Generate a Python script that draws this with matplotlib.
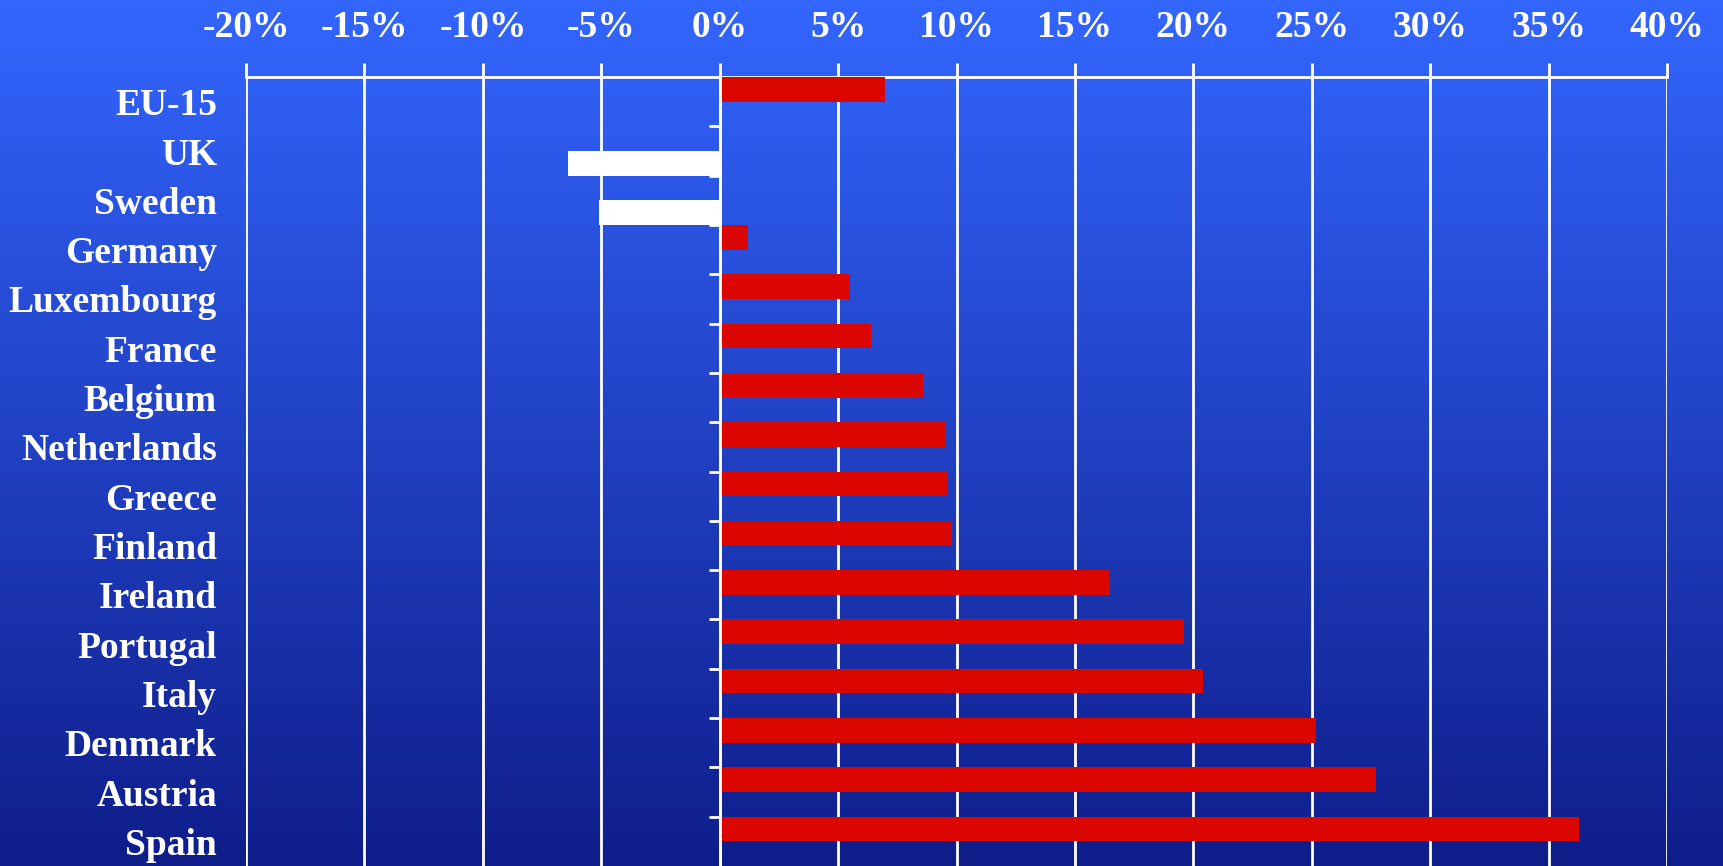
import numpy as np
import matplotlib
matplotlib.use("Agg")
import matplotlib.pyplot as plt
from matplotlib.colors import LinearSegmentedColormap

# data (% change)
countries = ["EU-15", "UK", "Sweden", "Germany", "Luxembourg", "France", "Belgium",
             "Netherlands", "Greece", "Finland", "Ireland", "Portugal", "Italy",
             "Denmark", "Austria", "Spain"]
values = [7.0, -6.4, -5.1, 1.2, 5.5, 6.4, 8.6, 9.5, 9.6, 9.8, 16.5, 19.6, 20.4, 25.2, 27.7, 36.3]
xticks = [-20, -15, -10, -5, 0, 5, 10, 15, 20, 25, 30, 35, 40]

plt.rcParams['font.family'] = ['Liberation Serif', 'DejaVu Serif']
plt.rcParams['font.weight'] = 'bold'

fig = plt.figure(figsize=(17.23, 8.66), dpi=100)

# blue gradient background
bg = fig.add_axes([0, 0, 1, 1], zorder=-10)
grad = np.linspace(0, 1, 256).reshape(-1, 1)
cmap = LinearSegmentedColormap.from_list("bg", ["#3366FF", "#0F1D8A"])
bg.imshow(grad, aspect="auto", cmap=cmap, extent=[0, 1, 0, 1])
bg.axis("off")

ax = fig.add_axes([0.1428, 0.0, 0.9675 - 0.1428, 0.911])
ax.patch.set_alpha(0)

y = np.arange(len(countries))
vals = np.array(values)
pos = vals >= 0
# rises sit in the upper half of each row, falls in the lower half
ax.barh(y[pos] - 0.25, vals[pos], height=0.5, color="#DC0600", zorder=3)
ax.barh(y[~pos] + 0.25, vals[~pos], height=0.5, color="white", zorder=3)

ax.set_xlim(-20, 40)
ax.set_ylim(len(countries) - 0.5, -0.5)

ax.set_xticks(xticks)
ax.set_xticklabels([f"{t}%" for t in xticks])
ax.xaxis.tick_top()
ax.tick_params(axis="x", colors="white", labelsize=27, length=10, width=2, pad=13,
               labelcolor="white")
ax.set_yticks(y)
ax.set_yticklabels(countries)
ax.tick_params(axis="y", length=0, pad=21, labelsize=27, labelcolor="white")

ax.grid(axis="x", color="white", linewidth=2, zorder=1)
for s in ["left", "right", "bottom"]:
    ax.spines[s].set_visible(False)
ax.spines["top"].set_color("white")
ax.spines["top"].set_linewidth(2)

# zero line stays visible over the bars, with small ticks between categories
ax.axvline(0, color="white", linewidth=2, zorder=4)
ax.hlines(y[:-1] + 0.5, -0.45, 0, color="white", linewidth=2, zorder=2)

fig.savefig("out.png", dpi=100)
